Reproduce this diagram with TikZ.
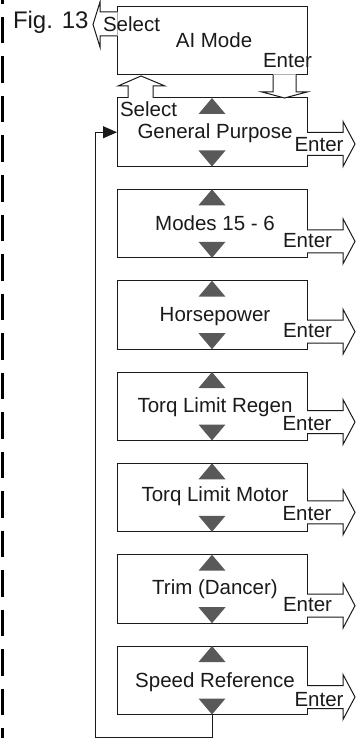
\documentclass[tikz,border=0pt]{standalone}
\usepackage{fontspec}
\setmainfont{Liberation Sans}
\usetikzlibrary{arrows.meta,calc}
\definecolor{trigray}{HTML}{595959}
\definecolor{ink}{HTML}{1A1A1A}
\tikzset{
  menubox/.style={draw=ink, line width=1pt, minimum width=190pt, minimum height=68.5pt,
    inner sep=0pt, outer sep=0pt, anchor=north west},
  lbl/.style={inner sep=0pt, outer sep=0pt, text=ink, font=\fontsize{20.5}{24}\selectfont},
  outl/.style={draw=ink, line width=1pt, line join=miter},
  blank/.style={fill=white},
  tri/.style={fill=trigray},
}
\begin{document}
\begin{tikzpicture}[x=1pt,y=-1pt]
\useasboundingbox (0,0) rectangle (356,738);
% dashed margin line
\draw[line width=3pt, dash pattern=on 26.5pt off 13pt, dash phase=22.5pt] (2.5,0) -- (2.5,738);
\node[lbl, anchor=base west, font=\fontsize{24}{28}\selectfont] (fig) at (13,29) {Fig. 13};
% AI mode box
\node[menubox, minimum height=68pt] (ai) at (117,7) {};
\node[lbl, anchor=base] (ailbl) at (214,48) {AI Mode};
% menu boxes
\foreach \n/\t/\lab/\lb/\ex/\eb/\ac in {
  gp/98/General Purpose/41/319/54/46,
  md/189.3/Modes 15 - 6/41/307.5/58/52,
  hp/280.7/Horsepower/41/307.5/57/51,
  tr/372/Torq Limit Regen/40/307/58/50,
  tm/463.3/Torq Limit Motor/38/307/57/49,
  td/554.7/Trim (Dancer)/40/307.5/57/51,
  sr/646/Speed Reference/41/319/60/51}{
  \node[menubox] (\n) at (117,\t) {};
  \fill[tri] ($(\n.north)+(-13.5,16)$) -- (\n.north) -- ($(\n.north)+(13.5,16)$) -- cycle;
  \fill[tri] ($(\n.south)+(-13.5,-16)$) -- (\n.south) -- ($(\n.south)+(13.5,-16)$) -- cycle;
  \node[lbl, anchor=base] (\n lbl) at (215,{\t+\lb}) {\lab};
  \path[blank] (306,{\t+\ac-11.5}) -- (343,{\t+\ac-11.5}) -- (343,{\t+\ac-22.5}) -- (355,{\t+\ac})
     -- (343,{\t+\ac+22.5}) -- (343,{\t+\ac+11.5}) -- (306,{\t+\ac+11.5}) -- cycle;
  \draw[outl] (307,{\t+\ac-11.5}) -- (343,{\t+\ac-11.5}) -- (343,{\t+\ac-22.5}) -- (355,{\t+\ac})
     -- (343,{\t+\ac+22.5}) -- (343,{\t+\ac+11.5}) -- (307,{\t+\ac+11.5});
  \node[lbl, anchor=base] (\n ent) at (\ex,{\t+\eb}) {Enter};
}
% Select arrow out of AI mode (left)
\path[blank] (117.7,12) -- (100,12) -- (100,2) -- (93,24.5) -- (100,47) -- (100,36) -- (117.7,36) -- cycle;
\draw[outl] (117,12) -- (100,12) -- (100,2) -- (93,24.5) -- (100,47) -- (100,36) -- (117,36);
\node[lbl, anchor=base west] (aisel) at (103,32) {Select};
\node[lbl, anchor=base] (aient) at (287.5,68) {Enter};
% Select arrow from General Purpose up to AI mode
\path[blank] (128,98.7) -- (128,86) -- (118,86) -- (141,76) -- (165,86) -- (153,86) -- (153,98.7) -- cycle;
\draw[outl] (128,98) -- (128,86) -- (118,86) -- (141,76) -- (165,86) -- (153,86) -- (153,98);
% Enter arrow from AI mode down to General Purpose
\path[blank] (273,74.3) -- (273,92) -- (262,92) -- (284.5,98) -- (307,92) -- (296,92) -- (296,74.3) -- cycle;
\draw[outl] (273,75) -- (273,92) -- (262,92) -- (284.5,98) -- (307,92) -- (296,92) -- (296,75);
\node[lbl, anchor=base west] (gpsel) at (120,117) {Select};
% feedback loop
\coordinate (lp) at (95,737);
\draw[outl, -{Triangle[length=14pt,width=12pt]}] (sr.south) |- (lp) |- (gp.west);
\end{tikzpicture}
\end{document}
